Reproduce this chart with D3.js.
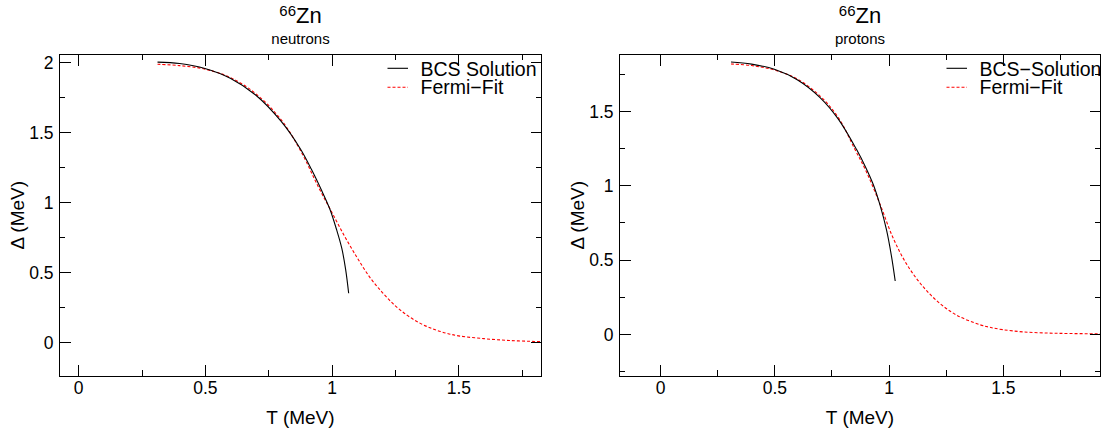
<!DOCTYPE html>
<html><head><meta charset="utf-8">
<script src="https://cdn.jsdelivr.net/npm/d3@7"></script>
<style>
body{margin:0;background:#fff;}
svg{display:block;}
text{font-family:"Liberation Sans",Arial,Helvetica,sans-serif;fill:#000;}
</style>
</head><body>
<svg id="c" width="1103" height="434"></svg>
<script>
// ---------- data ----------
const massNumber = "66";
const element = "Zn";
const subtitles = ["neutrons", "protons"];
const legendBcs = ["BCS Solution", "BCS\u2212Solution"];
const legendFit = ["Fermi\u2212Fit", "Fermi\u2212Fit"];
const xLabel = "T (MeV)";
const yLabel = "\u0394 (MeV)";

const xMajorTicks = [0, 0.5, 1, 1.5];
const xMinorTicks = [0.25, 0.75, 1.25, 1.75];
const yMajorTicksN = [0, 0.5, 1, 1.5, 2];
const yMinorTicksN = [0.25, 0.75, 1.25, 1.75];
const yMajorTicksP = [0, 0.5, 1, 1.5];
const yMinorTicksP = [-0.25, 0.25, 0.75, 1.25, 1.75];

// neutrons
const neutronBcsT   = [0.313, 0.40, 0.50, 0.60, 0.70, 0.80, 0.875, 0.92, 0.96, 0.993, 1.02, 1.04, 1.055, 1.067];
const neutronBcsGap = [2.000, 1.990, 1.955, 1.885, 1.765, 1.578, 1.385, 1.235, 1.085, 0.950, 0.800, 0.670, 0.520, 0.350];
const neutronFitT   = [0.313, 0.40, 0.50, 0.60, 0.70, 0.80, 0.875, 0.95, 1.00, 1.05, 1.10, 1.15, 1.20, 1.25, 1.30, 1.35, 1.40, 1.45, 1.50, 1.60, 1.70, 1.80, 1.83];
const neutronFitGap = [1.985, 1.975, 1.950, 1.890, 1.775, 1.590, 1.375, 1.100, 0.930, 0.760, 0.605, 0.465, 0.355, 0.262, 0.190, 0.135, 0.095, 0.066, 0.046, 0.026, 0.013, 0.006, 0.005];

// protons
const protonBcsT   = [0.31, 0.40, 0.50, 0.60, 0.70, 0.78, 0.86, 0.90, 0.933, 0.962, 0.991, 1.013, 1.029];
const protonBcsGap = [1.829, 1.815, 1.780, 1.710, 1.590, 1.445, 1.240, 1.120, 1.005, 0.870, 0.700, 0.520, 0.356];
const protonFitT   = [0.31, 0.40, 0.50, 0.60, 0.70, 0.78, 0.853, 0.90, 0.962, 1.02, 1.079, 1.151, 1.224, 1.30, 1.40, 1.443, 1.50, 1.589, 1.70, 1.80, 1.93];
const protonFitGap = [1.816, 1.805, 1.775, 1.715, 1.600, 1.455, 1.240, 1.100, 0.875, 0.645, 0.470, 0.318, 0.206, 0.125, 0.062, 0.045, 0.029, 0.014, 0.006, 0.003, 0.001];

// ---------- layout ----------
const panels = [
  {left: 59.5, right: 541.5, top: 54.5, bottom: 376, xDomain: [-0.0737, 1.8277], yDomain: [-0.2407, 2.0543],
   yMajor: yMajorTicksN, yMinor: yMinorTicksN, sub: subtitles[0], leg: [legendBcs[0], legendFit[0]],
   bcs: neutronBcsT.map((t,i)=>[t, neutronBcsGap[i]]), fit: neutronFitT.map((t,i)=>[t, neutronFitGap[i]]), ytitleX: 24},
  {left: 619.5, right: 1100.5, top: 54.5, bottom: 376, xDomain: [-0.178, 1.9278], yDomain: [-0.2826, 1.8795],
   yMajor: yMajorTicksP, yMinor: yMinorTicksP, sub: subtitles[1], leg: [legendBcs[1], legendFit[1]],
   bcs: protonBcsT.map((t,i)=>[t, protonBcsGap[i]]), fit: protonFitT.map((t,i)=>[t, protonFitGap[i]]), ytitleX: 584}
];

const svg = d3.select("#c");
const MAJ = 11, MIN = 5.7, TICKFS = 17.5;

panels.forEach((p, k) => {
  const x = d3.scaleLinear().domain(p.xDomain).range([p.left, p.right]);
  const y = d3.scaleLinear().domain(p.yDomain).range([p.bottom, p.top]);
  const g = svg.append("g");

  const clipId = "clip" + k;
  svg.append("clipPath").attr("id", clipId).append("rect")
    .attr("x", p.left).attr("y", p.top).attr("width", p.right - p.left).attr("height", p.bottom - p.top);

  const line = d3.line().x(d => x(d[0])).y(d => y(d[1])).curve(d3.curveCatmullRom.alpha(0.5));
  g.append("path").datum(p.fit).attr("d", line).attr("fill", "none")
    .attr("stroke", "#ff0000").attr("stroke-width", 1.1).attr("stroke-dasharray", "3,2")
    .attr("clip-path", `url(#${clipId})`);
  g.append("path").datum(p.bcs).attr("d", line).attr("fill", "none")
    .attr("stroke", "#000").attr("stroke-width", 1.1)
    .attr("clip-path", `url(#${clipId})`);

  const fmt = d3.format("~g");
  function styleAxis(sel) {
    sel.select(".domain").remove();
    sel.selectAll("line").attr("stroke", "#000").attr("shape-rendering", "crispEdges");
    sel.selectAll("text").attr("font-size", TICKFS).attr("fill", "#000");
    sel.attr("font-family", null).attr("font-size", null);
  }
  // bottom
  g.append("g").attr("transform", `translate(0,${p.bottom})`)
    .call(d3.axisBottom(x).tickValues(xMajorTicks).tickSize(-MAJ).tickPadding(5.6).tickFormat(fmt)).call(styleAxis);
  g.append("g").attr("transform", `translate(0,${p.bottom})`)
    .call(d3.axisBottom(x).tickValues(xMinorTicks).tickSize(-MIN).tickFormat("")).call(styleAxis);
  // top
  g.append("g").attr("transform", `translate(0,${p.top})`)
    .call(d3.axisTop(x).tickValues(xMajorTicks).tickSize(-MAJ).tickFormat("")).call(styleAxis);
  g.append("g").attr("transform", `translate(0,${p.top})`)
    .call(d3.axisTop(x).tickValues(xMinorTicks).tickSize(-MIN).tickFormat("")).call(styleAxis);
  // left
  const la = g.append("g").attr("transform", `translate(${p.left},0)`)
    .call(d3.axisLeft(y).tickValues(p.yMajor).tickSize(-MAJ).tickPadding(6).tickFormat(fmt)).call(styleAxis);
  la.selectAll("text").attr("dy", "0.36em");
  g.append("g").attr("transform", `translate(${p.left},0)`)
    .call(d3.axisLeft(y).tickValues(p.yMinor).tickSize(-MIN).tickFormat("")).call(styleAxis);
  // right
  g.append("g").attr("transform", `translate(${p.right},0)`)
    .call(d3.axisRight(y).tickValues(p.yMajor).tickSize(-MAJ).tickFormat("")).call(styleAxis);
  g.append("g").attr("transform", `translate(${p.right},0)`)
    .call(d3.axisRight(y).tickValues(p.yMinor).tickSize(-MIN).tickFormat("")).call(styleAxis);

  // frame
  g.append("rect").attr("x", p.left).attr("y", p.top).attr("width", p.right - p.left).attr("height", p.bottom - p.top)
    .attr("fill", "none").attr("stroke", "#000").attr("stroke-width", 1).attr("shape-rendering", "crispEdges");

  const cx = (p.left + p.right) / 2;
  // title
  const t = g.append("text").attr("x", cx).attr("y", 23.3).attr("text-anchor", "middle");
  t.append("tspan").attr("font-size", 15).attr("dy", -7.6).text(massNumber);
  t.append("tspan").attr("font-size", 22).attr("dy", 7.6).text(element);
  g.append("text").attr("x", cx).attr("y", 43.7).attr("text-anchor", "middle").attr("font-size", 15).text(p.sub);

  // axis titles
  g.append("text").attr("x", cx).attr("y", 423.5).attr("text-anchor", "middle").attr("font-size", 19).text(xLabel);
  g.append("text").attr("transform", `translate(${p.ytitleX},${(p.top + p.bottom) / 2}) rotate(-90)`)
    .attr("text-anchor", "middle").attr("font-size", 19).text(yLabel);

  // legend
  const lx0 = p.right - 154, lx1 = p.right - 133.5, tx = p.right - 121;
  g.append("line").attr("x1", lx0).attr("x2", lx1).attr("y1", 68.3).attr("y2", 68.3).attr("stroke", "#000").attr("stroke-width", 1.1);
  g.append("text").attr("x", tx).attr("y", 76).attr("font-size", 19.5).text(p.leg[0]);
  g.append("line").attr("x1", lx0).attr("x2", lx1).attr("y1", 87.3).attr("y2", 87.3).attr("stroke", "#ff0000")
    .attr("stroke-width", 1.1).attr("stroke-dasharray", "3,2");
  g.append("text").attr("x", tx).attr("y", 94.3).attr("font-size", 19.5).text(p.leg[1]);
});
</script>
</body></html>
